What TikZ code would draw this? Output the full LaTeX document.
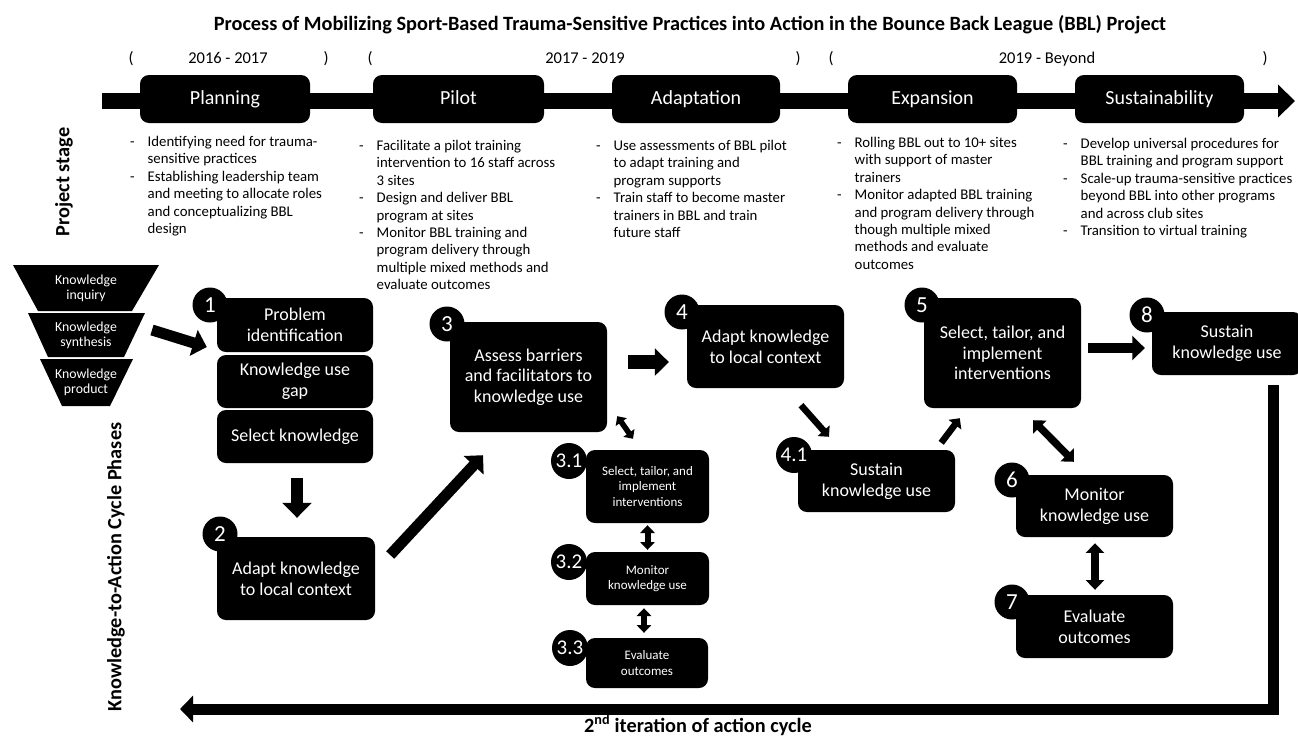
\documentclass[tikz,border=0pt]{standalone}
\usepackage{fontspec}
\setmainfont{Carlito}
\usetikzlibrary{arrows.meta,calc}
\newcommand\fs[2]{\fontsize{#1}{#2}\selectfont}
\newcommand\bl[1]{\makebox[17.5pt][l]{-}#1}
\newcommand\cl[1]{\hspace*{17.5pt}#1}
\begin{document}
\begin{tikzpicture}[x=1pt,y=-1pt,
  bx/.style={fill=black,rounded corners=9pt,text=white,inner sep=0pt,align=center,font=\fs{18}{20.7}},
  sbx/.style={bx,font=\fs{13}{15.5}},
  stg/.style={bx,minimum height=48pt,font=\fs{20}{24},text height=14pt,text depth=4pt},
  num/.style={circle,fill=black,text=white,inner sep=0pt,minimum size=35pt,font=\fs{23}{24}},
  snum/.style={num,minimum size=36pt,font=\fs{21}{22}},
  bul/.style={anchor=north west,align=left,inner sep=0pt,font=\fs{14.8}{17.4}},
  yr/.style={font=\fs{16.5}{20},text height=12pt,text depth=3.5pt,inner sep=0pt},
  lbl/.style={font=\bfseries\fs{20.3}{24}},
  fun/.style={fill=black},
  ftxt/.style={text=white,align=center,inner sep=0pt,font=\fs{13.8}{14.8}},
  barrow/.style={line width=#1pt,-{Triangle[width=2.4*#1pt,length=1.25*#1pt]}},
  darrow/.style={line width=#1pt,{Triangle[width=2.4*#1pt,length=1.3*#1pt]}-{Triangle[width=2.4*#1pt,length=1.3*#1pt]}}
]
\useasboundingbox (0,0) rectangle (1298,737);

% title
\node[lbl] (title) at (690,25) {Process of Mobilizing Sport-Based Trauma-Sensitive Practices into Action in the Bounce Back League (BBL) Project};

% years
\node[yr] (p1) at (131,59.5) {(};
\node[yr] (y1) at (228,59.5) {2016 - 2017};
\node[yr] (q1) at (326,59.5) {)};
\node[yr] (p2) at (370,59.5) {(};
\node[yr] (y2) at (585,59.5) {2017 - 2019};
\node[yr] (q2) at (798,59.5) {)};
\node[yr] (p3) at (831,59.5) {(};
\node[yr] (y3) at (1047,59.5) {2019 - Beyond};
\node[yr] (q3) at (1265,59.5) {)};

% timeline
\coordinate (tlA) at (102,101);
\coordinate (tlB) at (1295,101);
\draw[line width=16pt,-{Triangle[width=32pt,length=17pt]}] (tlA) -- (tlB);
\node[stg,minimum width=170pt] (st1) at (225,99) {Planning};
\node[stg,minimum width=171pt] (st2) at (458.5,99) {Pilot};
\node[stg,minimum width=168pt] (st3) at (696,99) {Adaptation};
\node[stg,minimum width=169pt] (st4) at (932.5,99) {Expansion};
\node[stg,minimum width=169pt] (st5) at (1159.5,99) {Sustainability};

% side labels
\node[rotate=90,lbl] (lps) at (64,182) {Project stage};
\node[rotate=90,lbl] (lkc) at (116,567) {Knowledge-to-Action Cycle Phases};

% bullets
\node[bul] (tp) at (130,136) {\bl{Identifying need for trauma-}\\\cl{sensitive practices}\\\bl{Establishing leadership team}\\\cl{and meeting to allocate roles}\\\cl{and conceptualizing BBL}\\\cl{design}};
\node[bul] (tpi) at (359,140) {\bl{Facilitate a pilot training}\\\cl{intervention to 16 staff across}\\\cl{3 sites}\\\bl{Design and deliver BBL}\\\cl{program at sites}\\\bl{Monitor BBL training and}\\\cl{program delivery through}\\\cl{multiple mixed methods and}\\\cl{evaluate outcomes}};
\node[bul] (tad) at (596,140) {\bl{Use assessments of BBL pilot}\\\cl{to adapt training and}\\\cl{program supports}\\\bl{Train staff to become master}\\\cl{trainers in BBL and train}\\\cl{future staff}};
\node[bul] (tex) at (837,137) {\bl{Rolling BBL out to 10+ sites}\\\cl{with support of master}\\\cl{trainers}\\\bl{Monitor adapted BBL training}\\\cl{and program delivery through}\\\cl{though multiple mixed}\\\cl{methods and evaluate}\\\cl{outcomes}};
\node[bul] (tsu) at (1063,138) {\bl{Develop universal procedures for}\\\cl{BBL training and program support}\\\bl{Scale-up trauma-sensitive practices}\\\cl{beyond BBL into other programs}\\\cl{and across club sites}\\\bl{Transition to virtual training}};

% funnel
\fill[fun] (13,265) -- (159,265) -- (132,311) -- (38,311) -- cycle;
\fill[fun] (28,313) -- (145,313) -- (124,357) -- (48,357) -- cycle;
\fill[fun] (40,359) -- (133,359) -- (110,406) -- (62,406) -- cycle;
\node[ftxt] (fin) at (86,288) {Knowledge\\inquiry};
\node[ftxt] (fsy) at (86,335) {Knowledge\\synthesis};
\node[ftxt] (fpr) at (86,382) {Knowledge\\product};

% cycle boxes
\node[bx,minimum width=156pt,minimum height=54pt] (b1a) at (295,325) {Problem\\identification};
\node[bx,minimum width=156pt,minimum height=53pt] (b1b) at (295,381.5) {Knowledge use\\gap};
\node[bx,minimum width=156pt,minimum height=53pt] (b1c) at (295,436.5) {Select knowledge};
\node[bx,minimum width=158pt,minimum height=83pt] (b2) at (296,578.5) {Adapt knowledge\\to local context};
\node[bx,minimum width=157pt,minimum height=110pt] (b3) at (528.5,377) {Assess barriers\\and facilitators to\\knowledge use};
\node[sbx,minimum width=123pt,minimum height=73pt] (b31) at (647.5,486.5) {Select, tailor, and\\implement\\interventions};
\node[sbx,minimum width=123pt,minimum height=53pt] (b32) at (647.5,578.5) {Monitor\\knowledge use};
\node[sbx,minimum width=122pt,minimum height=50pt] (b33) at (647,663) {Evaluate\\outcomes};
\node[bx,minimum width=157pt,minimum height=83pt] (b4) at (765.5,346.5) {Adapt knowledge\\to local context};
\node[bx,minimum width=157pt,minimum height=62pt] (b41) at (876.5,481) {Sustain\\knowledge use};
\node[bx,minimum width=157pt,minimum height=110pt] (b5) at (1002.5,353) {Select, tailor, and\\implement\\interventions};
\node[bx,minimum width=150pt,minimum height=63pt] (b8) at (1227,343.5) {Sustain\\knowledge use};
\node[bx,minimum width=157pt,minimum height=62pt] (b6) at (1094.5,506) {Monitor\\knowledge use};
\node[bx,minimum width=157pt,minimum height=63pt] (b7) at (1094.5,626.5) {Evaluate\\outcomes};

% number circles
\node[num] (n1) at (210,305) {1};
\node[num] (n2) at (220,534) {2};
\node[num] (n3) at (447,324) {3};
\node[num] (n4) at (682,312) {4};
\node[num] (n5) at (922,305) {5};
\node[num] (n8) at (1147,315) {8};
\node[num] (n6) at (1012,480) {6};
\node[num] (n7) at (1012,602) {7};
\node[snum] (n41) at (794,455) {4.1};
\node[snum] (n31) at (569,461) {3.1};
\node[snum] (n32) at (569,562) {3.2};
\node[snum] (n33) at (570,648) {3.3};

% arrows
\draw[barrow=11] ($(fsy.center)+(66,-5)$) -- ($(b1a.west)+(-10,22)$);
\draw[barrow=12] ($(b1c.south)+(2,15)$) -- ($(b2.north)+(1,-19)$);
\draw[barrow=11] ($(b2.east)+(15,-23.5)$) -- ($(b3.south)+(-45.5,23)$);
\draw[line width=14pt,-{Triangle[width=27pt,length=14pt]}] ($(b3.east)+(21,-15)$) -- ($(b4.west)+(-18,15.5)$);
\draw[barrow=10] ($(b5.east)+(7,-5)$) -- ($(b8.west)+(-7,4.5)$);
\draw[barrow=6.5] ($(b4.south)+(35.5,17)$) -- ($(b41.north)+(-47.5,-13)$);
\draw[barrow=6.5] ($(b41.north east)+(-14,-7)$) -- ($(b5.south west)+(36,10)$);
\draw[darrow=5.5] ($(b3.south east)+(10,-16)$) -- ($(b31.north)+(-14.5,-11)$);
\draw[darrow=6] ($(b31.south)+(0,2)$) -- ($(b32.north)+(0,-2)$);
\draw[darrow=6] ($(b32.south)+(-3.5,3)$) -- ($(b33.north)+(-3,-5)$);
\draw[darrow=7.5] ($(b5.south)+(30.5,12)$) -- ($(b6.north)+(-20.5,-13)$);
\draw[darrow=7.5] ($(b6.south)+(0.5,6)$) -- ($(b7.north)+(0.5,-5)$);

% cycle line
\coordinate (cycA) at ($(b8.south east)+(-29,10)$);
\coordinate (cycB) at (180,709);
\draw[line width=11pt,-{Triangle[width=26pt,length=13pt]}] (cycA) |- (cycB);
\node[lbl,anchor=base] (cyct) at (698,732) {2\textsuperscript{nd} iteration of action cycle};
\end{tikzpicture}
\end{document}
